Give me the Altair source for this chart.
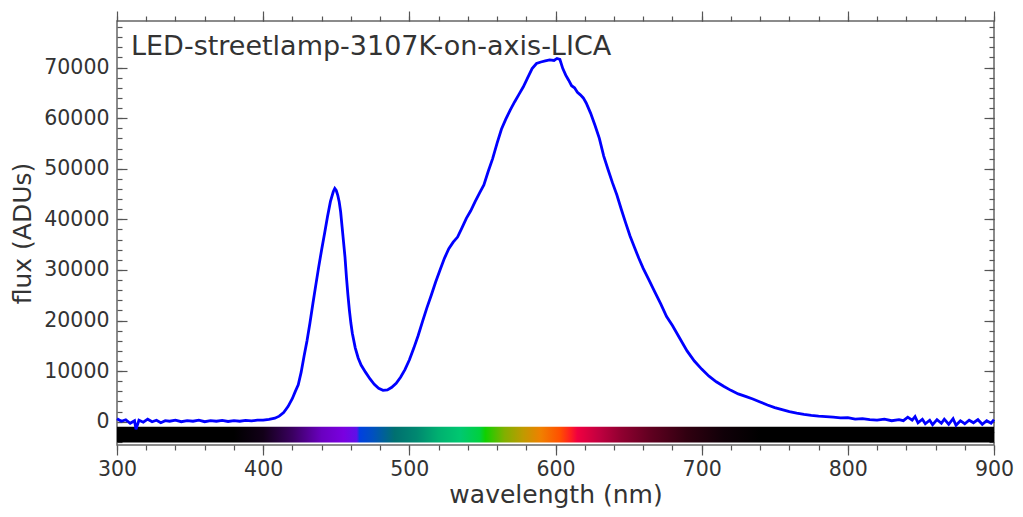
import altair as alt
import pandas as pd

# spectrum (nm, ADUs)
wavelength = [
    300, 303, 306, 309, 312, 313, 315, 318, 321, 324, 327, 330, 333, 336, 340,
    344, 348, 352, 356, 360, 364, 368, 372, 376, 380, 384, 388, 392, 396, 400,
    404, 408, 411, 414, 417, 420, 422, 424, 426, 428, 430, 432, 434, 436, 438,
    440, 442, 444, 446, 448, 449, 450, 451, 452, 453, 454, 455, 456, 457, 458,
    459, 460, 461, 463, 465, 467, 470, 473, 476, 479, 482, 485, 488, 491, 494,
    497, 500, 503, 506, 509, 512, 515, 518, 521, 524, 527, 530, 533, 536, 539,
    542, 545, 548, 551, 554, 557, 560, 563, 566, 569, 572, 575, 578, 581, 584,
    587, 590, 593, 596, 599, 601, 603, 605, 607, 609, 611, 613, 615, 617, 619,
    621, 624, 627, 630, 633, 636, 639, 642, 645, 648, 651, 654, 657, 660, 664,
    668, 672, 676, 680, 685, 690, 695, 700, 705, 710, 715, 720, 725, 730, 735,
    740, 745, 750, 755, 760, 765, 770, 775, 780, 785, 790, 795, 800, 805, 810,
    815, 820, 825, 830, 835, 838, 841, 844, 846, 848, 851, 853, 856, 858, 861,
    864, 866, 869, 872, 874, 877, 880, 883, 886, 889, 892, 895, 898, 900,
]
flux = [
    600, 100, 400, -300, 200, -1500, 300, -100, 500, 0, 300, -200, 200, 100, 300,
    0, 200, 100, 300, 0, 200, 100, 250, 50, 200, 100, 250, 150, 300, 300,
    450, 700, 1100, 1800, 3000, 4600, 6000, 7300, 9800, 13000, 16000, 19500, 23300, 27000, 30600,
    34000, 37200, 40500, 43500, 45500, 46100, 45700, 44800, 43500, 41500, 38500, 35500, 32500, 28500, 25000,
    22000, 19500, 17500, 14600, 12600, 11200, 9800, 8500, 7400, 6600, 6200, 6300, 6800, 7600, 8800,
    10300, 12200, 14500, 17000, 19800, 22500, 25000, 27600, 30000, 32300, 34200, 35500, 36500, 38300, 40200,
    41700, 43500, 45200, 46800, 49500, 52000, 55000, 57800, 59800, 61600, 63200, 64700, 66200, 68000, 69800,
    70800, 71100, 71300, 71500, 71400, 71800, 71600, 69800, 68500, 67500, 66400, 66000, 65100, 64600, 64000,
    63000, 61000, 58600, 56000, 52500, 49800, 47200, 44800, 42000, 39300, 36700, 34500, 32300, 30300, 28000,
    25600, 23300, 20800, 19000, 16500, 14000, 12000, 10400, 9000, 7900, 7000, 6200, 5500, 5000, 4500,
    3900, 3300, 2800, 2400, 2000, 1700, 1450, 1250, 1100, 1000, 900, 750, 800, 500, 600,
    400, 300, 500, 200, 400, 200, 900, 300, 1000, -200, 500, -400, 300, -600, 400,
    -300, 500, -500, 600, -700, 200, -400, 300, -200, 400, -500, 200, -300, 400,
]

# visible-spectrum strip under the curve: wavelength stops and colours
strip_wl = [300, 380, 400, 420, 440, 455, 464, 466, 475, 490, 505, 520, 535, 548,
            552, 565, 578, 590, 603, 610, 615, 630, 645, 665, 690, 715, 740, 900]
strip_colors = ["#000000", "#000000", "#120018", "#3a0060", "#6a00c0", "#7a00e0",
                "#6010e8", "#0040e0", "#0050c0", "#007070", "#008870", "#00b070",
                "#00c870", "#00d040", "#10d000", "#80b000", "#c09a00", "#f08000",
                "#ff5000", "#ff2020", "#f00040", "#c00040", "#900030", "#600020",
                "#300010", "#100008", "#000000", "#000000"]
strip_df = pd.DataFrame({"x0": [300], "x1": [900], "y0": [-1000], "y1": [-4100]})

df = pd.DataFrame({"wl": wavelength, "flux": flux})

FONT = "DejaVu Sans"
W, H = 877, 424
X_DOM = [300, 900]
Y_DOM = [-4600, 79200]


def xs():
    return alt.Scale(domain=X_DOM, nice=False, zero=False)


def ys():
    return alt.Scale(domain=Y_DOM, nice=False, zero=False)


def tick_axis(orient, values, size, offset=0):
    # axis carrying ticks only (no labels, no domain line)
    return alt.Axis(orient=orient, values=values, tickSize=size, labels=False,
                    domain=False, grid=False, title=None, offset=offset,
                    tickColor="#555555", tickWidth=1.2)


x_major = list(range(300, 901, 100))
x_minor = list(range(300, 901, 20))
y_major = list(range(0, 70001, 10000))
y_minor = list(range(-4000, 79001, 2000))

gradient = alt.LinearGradient(
    gradient="linear", x1=0, x2=1, y1=0, y2=0,
    stops=[alt.GradientStop(offset=(w - 300) / 600, color=c)
           for w, c in zip(strip_wl, strip_colors)],
)

strip = alt.Chart(strip_df).mark_rect(color=gradient).encode(
    x=alt.X("x0:Q", scale=xs(), axis=None),
    x2="x1:Q",
    y=alt.Y("y0:Q", scale=ys(), axis=None),
    y2="y1:Q",
)

line = alt.Chart(df).mark_line(color="#0000ff", strokeWidth=2.8).encode(
    x=alt.X("wl:Q", scale=xs(), title="wavelength (nm)",
            axis=alt.Axis(values=x_major, tickSize=10, labelPadding=4, domain=False,
                          grid=False, titlePadding=3, labelFlush=False,
                          tickColor="#555555", tickWidth=1.2)),
    y=alt.Y("flux:Q", scale=ys(), title="flux (ADUs)",
            axis=alt.Axis(values=y_major, ticks=False, tickSize=0, labelPadding=8,
                          format="d", domain=False, grid=False, titlePadding=8,
                          labelFlush=False)),
)

ghost = alt.Chart(df).mark_line(strokeOpacity=0)


def ghost_layer(x_axis, y_axis):
    return ghost.encode(
        x=alt.X("wl:Q", scale=xs(), axis=x_axis),
        y=alt.Y("flux:Q", scale=ys(), axis=y_axis),
    )


layers = [
    strip,
    line,
    # bottom minor ticks / left inward major ticks
    ghost_layer(tick_axis("bottom", x_minor, 5), tick_axis("right", y_major, 10, -W)),
    # top major ticks / left inward minor ticks
    ghost_layer(tick_axis("top", x_major, 10), tick_axis("right", y_minor, 5, -W)),
    # top minor ticks / right inward major ticks
    ghost_layer(tick_axis("top", x_minor, 5), tick_axis("left", y_major, 10, -W)),
    # right inward minor ticks
    ghost_layer(None, tick_axis("left", y_minor, 5, -W)),
]

title = alt.Chart(strip_df).mark_text(
    text="LED-streetlamp-3107K-on-axis-LICA", align="left", baseline="top",
    font=FONT, fontSize=27, color="#333333",
).encode(x=alt.value(14), y=alt.value(13))

chart = (
    alt.layer(*layers, title)
    .resolve_axis(x="independent", y="independent")
    .properties(width=W, height=H, autosize="none",
                padding={"left": 109, "top": 13, "right": 21, "bottom": 64})
    .configure_view(stroke="#666666", strokeWidth=1.5)
    .configure_axis(labelFont=FONT, titleFont=FONT, labelFontSize=20.5,
                    titleFontSize=25, labelColor="#333333", titleColor="#333333",
                    titleFontWeight="normal")
)

chart.save("out.html", embed_options={"renderer": "svg", "actions": False})
